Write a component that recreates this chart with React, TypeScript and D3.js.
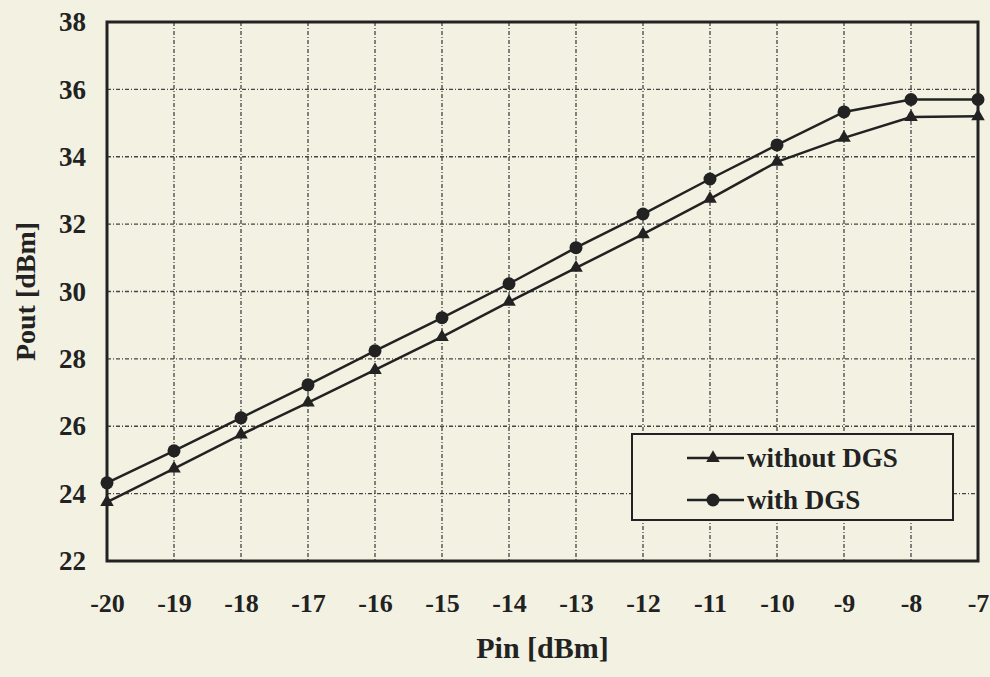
import { useEffect, useRef } from "react";
import * as d3 from "d3";

const PIN = [-20, -19, -18, -17, -16, -15, -14, -13, -12, -11, -10, -9, -8, -7];
const WITHOUT_DGS = [23.75, 24.74, 25.75, 26.7, 27.67, 28.65, 29.69, 30.7, 31.7, 32.75, 33.85, 34.56, 35.18, 35.2];
const WITH_DGS = [24.32, 25.27, 26.25, 27.23, 28.24, 29.22, 30.23, 31.3, 32.3, 33.34, 34.35, 35.33, 35.7, 35.7];
const Y_TICKS = [22, 24, 26, 28, 30, 32, 34, 36, 38];
const SERIES = [
    { name: "without DGS", values: WITHOUT_DGS, marker: "triangle" },
    { name: "with DGS", values: WITH_DGS, marker: "circle" },
];

const W = 990;
const H = 677;
const INK = "#222";
const PAPER = "#f3f2e2";
const FONT = "'Liberation Serif', 'DejaVu Serif', serif";

export default function App() {
    const svgRef = useRef<SVGSVGElement | null>(null);

    useEffect(() => {
        if (!svgRef.current) return;
        const root = d3.select(svgRef.current);
        root.selectAll("*").remove();

        const margin = { top: 22, right: 12, bottom: 116, left: 107 };
        const innerW = W - margin.left - margin.right;
        const innerH = H - margin.top - margin.bottom;

        root.append("rect").attr("width", W).attr("height", H).attr("fill", PAPER);

        const svg = root.append("g").attr("transform", `translate(${margin.left},${margin.top})`);

        const x = d3.scaleLinear().domain([-20, -7]).range([0, innerW]);
        const y = d3.scaleLinear().domain([22, 38]).range([innerH, 0]);

        // grid
        svg.append("g")
            .selectAll("line")
            .data(PIN.slice(1, -1))
            .enter()
            .append("line")
            .attr("x1", (d) => x(d))
            .attr("x2", (d) => x(d))
            .attr("y1", 0)
            .attr("y2", innerH)
            .attr("stroke", "#444")
            .attr("stroke-width", 1.3)
            .attr("stroke-dasharray", "4 2 1 2");
        svg.append("g")
            .selectAll("line")
            .data(Y_TICKS.slice(1, -1))
            .enter()
            .append("line")
            .attr("x1", 0)
            .attr("x2", innerW)
            .attr("y1", (d) => y(d))
            .attr("y2", (d) => y(d))
            .attr("stroke", "#444")
            .attr("stroke-width", 1.3)
            .attr("stroke-dasharray", "4 2 1 2");

        // frame
        svg.append("rect")
            .attr("width", innerW)
            .attr("height", innerH)
            .attr("fill", "none")
            .attr("stroke", INK)
            .attr("stroke-width", 3);

        const styleText = (sel: any, size: number) =>
            sel
                .style("font-family", FONT)
                .style("font-weight", "bold")
                .style("font-size", `${size}px`)
                .style("fill", INK);

        // tick labels (plain hyphen as in the original)
        const xAxis = d3.axisBottom(x).tickValues(PIN).tickSize(0).tickPadding(33).tickFormat((d) => String(d));
        const gx = svg.append("g").attr("transform", `translate(0,${innerH})`).call(xAxis);
        gx.select(".domain").remove();
        styleText(gx.selectAll("text"), 26);

        const yAxis = d3.axisLeft(y).tickValues(Y_TICKS).tickSize(0).tickPadding(21).tickFormat((d) => String(d));
        const gy = svg.append("g").call(yAxis);
        gy.select(".domain").remove();
        styleText(gy.selectAll("text"), 27);

        // axis titles
        styleText(
            root.append("text")
                .attr("x", margin.left + innerW / 2)
                .attr("y", 658)
                .attr("text-anchor", "middle")
                .text("Pin [dBm]"),
            30
        );
        styleText(
            root.append("text")
                .attr("transform", `translate(35,${margin.top + innerH / 2}) rotate(-90)`)
                .attr("text-anchor", "middle")
                .text("Pout [dBm]"),
            28
        );

        const line = d3
            .line<number>()
            .x((_, i) => x(PIN[i]))
            .y((d) => y(d));

        const tri = d3.symbol().type(d3.symbolTriangle).size(80);

        SERIES.forEach((s) => {
            svg.append("path")
                .datum(s.values)
                .attr("fill", "none")
                .attr("stroke", INK)
                .attr("stroke-width", 2.5)
                .attr("d", line);
            if (s.marker === "circle") {
                svg.append("g")
                    .selectAll("circle")
                    .data(s.values)
                    .enter()
                    .append("circle")
                    .attr("cx", (_, i) => x(PIN[i]))
                    .attr("cy", (d) => y(d))
                    .attr("r", 6.5)
                    .attr("fill", INK);
            } else {
                svg.append("g")
                    .selectAll("path")
                    .data(s.values)
                    .enter()
                    .append("path")
                    .attr("transform", (d, i) => `translate(${x(PIN[i])},${y(d)})`)
                    .attr("d", tri)
                    .attr("fill", INK);
            }
        });

        // legend
        const lg = root.append("g").attr("transform", "translate(632,434)");
        lg.append("rect")
            .attr("width", 321)
            .attr("height", 86)
            .attr("fill", PAPER)
            .attr("stroke", INK)
            .attr("stroke-width", 2);
        SERIES.forEach((s, i) => {
            const ly = 24 + i * 42;
            lg.append("line")
                .attr("x1", 55)
                .attr("x2", 112)
                .attr("y1", ly)
                .attr("y2", ly)
                .attr("stroke", INK)
                .attr("stroke-width", 2.5);
            if (s.marker === "circle") {
                lg.append("circle").attr("cx", 81).attr("cy", ly).attr("r", 6.5).attr("fill", INK);
            } else {
                lg.append("path").attr("transform", `translate(81,${ly})`).attr("d", tri).attr("fill", INK);
            }
            styleText(
                lg.append("text").attr("x", 115).attr("y", ly).attr("dy", "0.35em").text(s.name),
                27
            );
        });
    }, []);

    return (
        <div style={{ position: "fixed", left: 0, top: 0, width: W, height: H }}>
            <svg ref={svgRef} width={W} height={H} style={{ display: "block" }} />
        </div>
    );
}
